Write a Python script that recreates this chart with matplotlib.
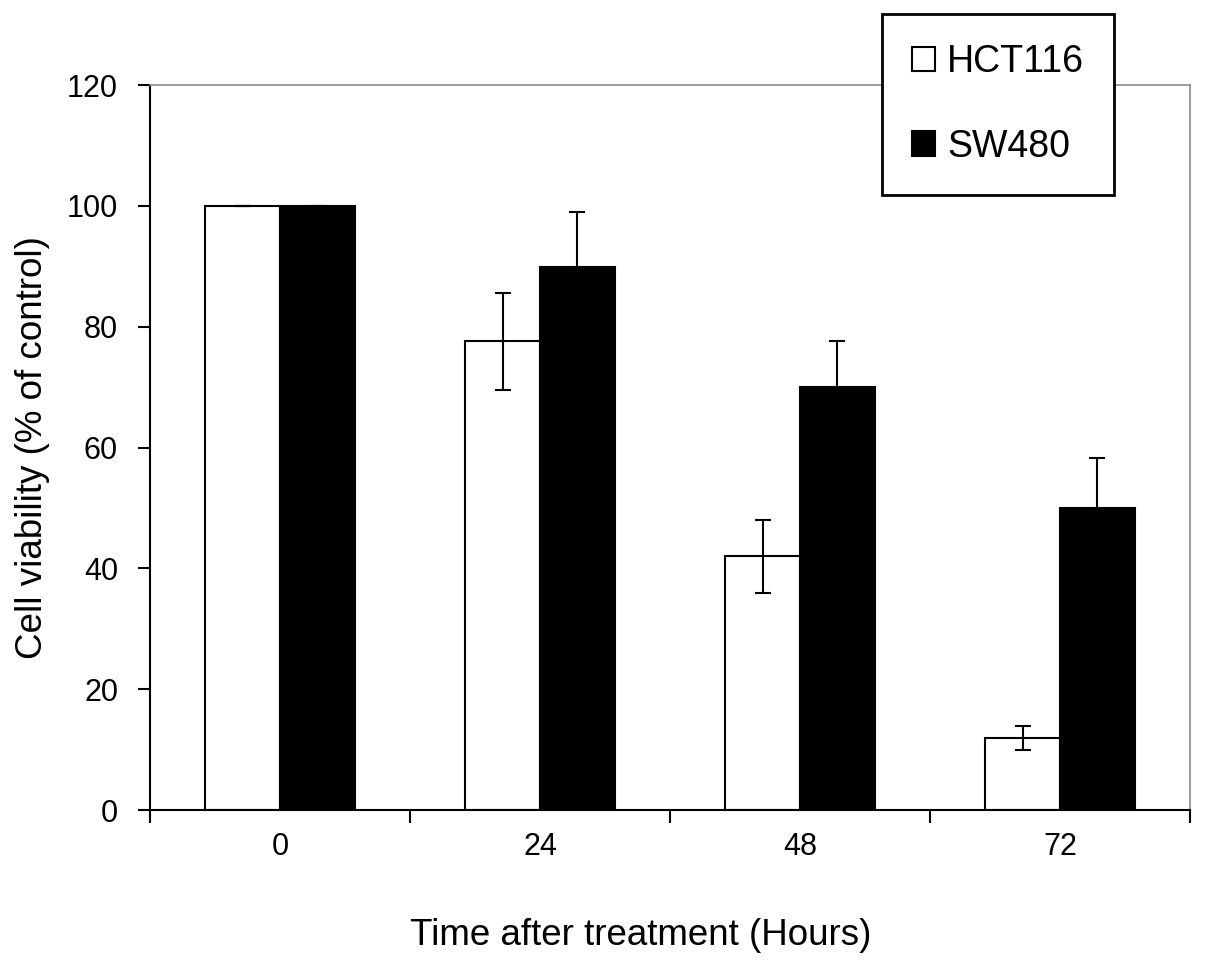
import matplotlib
matplotlib.use('Agg')
import matplotlib.pyplot as plt
import numpy as np

plt.rcParams['font.family'] = ['Liberation Sans', 'DejaVu Sans']

hours = ['0', '24', '48', '72']
hct116 = [100, 77.6, 42, 11.9]
hct116_err = [0, 8, 6, 2]
sw480 = [100, 89.8, 70, 50]
sw480_err = [0, 9.2, 7.7, 8.3]

fig = plt.figure(figsize=(12.05, 9.66), dpi=100)
ax = fig.add_axes([150 / 1205, 1 - 810 / 966, 1040 / 1205, 725 / 966])

x = np.arange(len(hours))
w = 0.288
err_kw = dict(ecolor='black', elinewidth=1.5, capsize=6, capthick=1.5)
ax.bar(x - w / 2, hct116, w, yerr=hct116_err, color='white', edgecolor='black',
       linewidth=1.5, label='HCT116', error_kw=err_kw, zorder=2)
ax.bar(x + w / 2, sw480, w, yerr=sw480_err, color='black', edgecolor='black',
       linewidth=1.5, label='SW480', error_kw=err_kw, zorder=2)

ax.set_xlim(-0.5, len(hours) - 0.5)
ax.set_ylim(0, 120)
ax.set_yticks(np.arange(0, 121, 20))

# tick marks at the category boundaries, labels at the centres
ax.set_xticks(np.arange(-0.5, len(hours), 1.0))
ax.set_xticklabels([])
ax.set_xticks(x, minor=True)
ax.set_xticklabels(hours, minor=True)
ax.tick_params(axis='x', which='major', direction='out', length=9, width=1.5)
ax.tick_params(axis='x', which='minor', length=0, pad=16, labelsize=22)
ax.tick_params(axis='y', direction='out', length=9, width=1.5, pad=14, labelsize=22)

for side in ('left', 'bottom'):
    ax.spines[side].set_linewidth(1.5)
    ax.spines[side].set_color('black')
for side in ('top', 'right'):
    ax.spines[side].set_linewidth(1.2)
    ax.spines[side].set_color('#8a8a8a')

ax.set_xlabel('Time after treatment (Hours)', fontsize=26.5)
ax.xaxis.set_label_coords(0.472, -0.149)
ax.set_ylabel('Cell viability (% of control)', fontsize=26.5, labelpad=12)

leg = fig.legend(loc='upper left', bbox_to_anchor=(882 / 1205, 1 - 14 / 966),
                 borderaxespad=0, fontsize=27, frameon=True, fancybox=False,
                 handlelength=0.62, handleheight=0.62, handletextpad=0.32,
                 labelspacing=1.3, borderpad=0.8)
leg.get_frame().set_edgecolor('black')
leg.get_frame().set_linewidth(2)
leg.get_frame().set_alpha(1)

fig.savefig('out.png', dpi=100)
